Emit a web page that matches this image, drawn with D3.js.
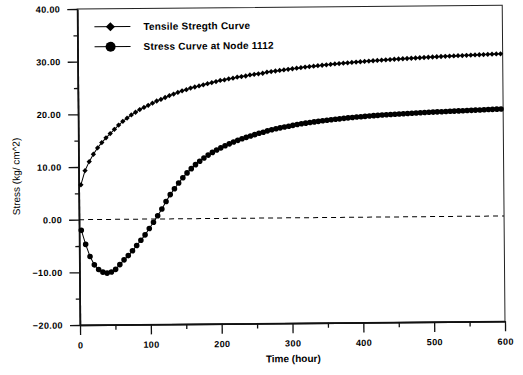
<!DOCTYPE html>
<html>
<head>
<meta charset="utf-8">
<script src="https://cdn.jsdelivr.net/npm/d3@7"></script>
<style>
  body { margin: 0; background: #fff; }
  text { font-family: "Liberation Sans", Arial, sans-serif; fill: #000; }
</style>
</head>
<body>
<div id="chart"></div>
<script>
// time steps (hours)
const times = [3, 9, 15, 21, 27, 33, 39, 45, 51, 57,
  63, 69, 75, 81, 87, 93, 99, 105, 111, 117,
  123, 129, 135, 141, 147, 153, 159, 165, 171, 177,
  183, 189, 195, 201, 207, 213, 219, 225, 231, 237,
  243, 249, 255, 261, 267, 273, 279, 285, 291, 297,
  303, 309, 315, 321, 327, 333, 339, 345, 351, 357,
  363, 369, 375, 381, 387, 393, 399, 405, 411, 417,
  423, 429, 435, 441, 447, 453, 459, 465, 471, 477,
  483, 489, 495, 501, 507, 513, 519, 525, 531, 537,
  543, 549, 555, 561, 567, 573, 579, 585, 591, 597];

const tensile = [6.6, 9.3, 11.0, 12.4, 13.6, 14.6, 15.5, 16.3, 17.1, 17.9,
  18.6, 19.2, 19.8, 20.3, 20.8, 21.2, 21.6, 22.0, 22.4, 22.7,
  23.05, 23.4, 23.7, 24.0, 24.3, 24.5, 24.8, 25.0, 25.2, 25.4,
  25.6, 25.8, 26.0, 26.2, 26.3, 26.5, 26.6, 26.8, 26.9, 27.0,
  27.2, 27.3, 27.4, 27.5, 27.7, 27.8, 27.9, 28.0, 28.1, 28.2,
  28.3, 28.4, 28.5, 28.6, 28.68, 28.76, 28.84, 28.92, 29.0, 29.07,
  29.14, 29.21, 29.28, 29.34, 29.4, 29.46, 29.52, 29.58, 29.64, 29.69,
  29.74, 29.79, 29.84, 29.89, 29.94, 29.98, 30.02, 30.06, 30.1, 30.14,
  30.18, 30.22, 30.26, 30.3, 30.34, 30.38, 30.41, 30.44, 30.47, 30.5,
  30.53, 30.56, 30.59, 30.62, 30.65, 30.68, 30.71, 30.74, 30.77, 30.8];

const stress = [-2.0, -4.7, -7.0, -8.6, -9.5, -10.0, -10.2, -10.0, -9.5, -8.6,
  -7.7, -6.9, -6.0, -5.0, -4.0, -3.0, -1.8, -0.6, 0.6, 1.9,
  3.3, 4.6, 5.7, 6.8, 7.8, 8.7, 9.5, 10.25, 10.9, 11.5,
  12.05, 12.55, 13.0, 13.4, 13.8, 14.15, 14.5, 14.8, 15.1, 15.35,
  15.6, 15.85, 16.1, 16.3, 16.55, 16.75, 16.95, 17.1, 17.25, 17.4,
  17.55, 17.7, 17.83, 17.95, 18.06, 18.17, 18.27, 18.37, 18.46, 18.55,
  18.63, 18.71, 18.8, 18.88, 18.95, 19.02, 19.08, 19.14, 19.2, 19.26,
  19.31, 19.36, 19.41, 19.46, 19.5, 19.54, 19.58, 19.62, 19.66, 19.7,
  19.74, 19.78, 19.81, 19.84, 19.87, 19.9, 19.93, 19.96, 19.99, 20.02,
  20.05, 20.08, 20.11, 20.14, 20.17, 20.2, 20.23, 20.26, 20.29, 20.32];

const seriesNames = ["Tensile Stregth Curve", "Stress Curve at Node 1112"];
const yTicks = [-20, -10, 0, 10, 20, 30, 40];
const yMinor = [-15, -5, 5, 15, 25, 35];
const xTicks = [0, 100, 200, 300, 400, 500, 600];
const xMinor = [50, 150, 250, 350, 450, 550];

const W = 523, H = 375;
const plotLeft = 80, plotRight = 505, plotTop = 9, plotBottom = 325;

const svg = d3.select("#chart").append("svg")
  .attr("width", W).attr("height", H);

// the scanned original sits slightly tilted
const g = svg.append("g")
  .attr("transform", `rotate(-0.5, ${plotLeft}, ${plotBottom})`);

const x = d3.scaleLinear().domain([0, 600]).range([plotLeft, plotRight]);
const y = d3.scaleLinear().domain([-20, 40]).range([plotBottom, plotTop]);

// frame
g.append("rect")
  .attr("x", plotLeft).attr("y", plotTop)
  .attr("width", plotRight - plotLeft).attr("height", plotBottom - plotTop)
  .attr("fill", "none").attr("stroke", "#222").attr("stroke-width", 1);

// y axis
g.append("g")
  .attr("transform", `translate(${plotLeft},0)`)
  .call(d3.axisLeft(y).tickValues(yTicks).tickSize(10).tickSizeOuter(0)
    .tickPadding(7).tickFormat(d3.format(".2f")));
g.append("g")
  .attr("transform", `translate(${plotLeft},0)`)
  .call(d3.axisLeft(y).tickValues(yMinor).tickSize(4).tickSizeOuter(0).tickFormat(""));

// x axis
g.append("g")
  .attr("transform", `translate(0,${plotBottom})`)
  .call(d3.axisBottom(x).tickValues(xTicks).tickSize(10).tickSizeOuter(0)
    .tickPadding(7));
g.append("g")
  .attr("transform", `translate(0,${plotBottom})`)
  .call(d3.axisBottom(x).tickValues(xMinor).tickSize(5).tickSizeOuter(0).tickFormat(""));

g.selectAll(".domain").attr("stroke", "#111").attr("stroke-width", 1.4);
g.selectAll(".tick line").attr("stroke", "#111").attr("stroke-width", 1.3);
g.selectAll(".tick text")
  .style("font-size", "9px")
  .style("font-weight", "bold")
  .style("letter-spacing", "0.4px")
  .attr("fill", "#000");

// axis titles
g.append("text")
  .attr("x", 293).attr("y", 364)
  .attr("text-anchor", "middle")
  .style("font-size", "10px")
  .style("font-weight", "bold")
  .text("Time (hour)");

g.append("text")
  .attr("transform", "translate(21,176) rotate(-90)")
  .attr("text-anchor", "middle")
  .style("font-size", "10px")
  .text("Stress (kg/ cm^2)");

// zero reference line
g.append("line")
  .attr("x1", x(0)).attr("x2", x(600))
  .attr("y1", y(0)).attr("y2", y(0))
  .attr("stroke", "#000").attr("stroke-width", 1)
  .attr("stroke-dasharray", "5,4");

// series
const tensileData = times.map((t, i) => ({ t: t, v: tensile[i] }));
const stressData = times.map((t, i) => ({ t: t, v: stress[i] }));

const line = d3.line().x(d => x(d.t)).y(d => y(d.v));

const diamond = d3.symbol().type(d3.symbolSquare).size(14);
const bigDiamond = d3.symbol().type(d3.symbolSquare).size(42);

g.append("path").datum(tensileData)
  .attr("d", line).attr("fill", "none")
  .attr("stroke", "#000").attr("stroke-width", 1);
g.selectAll(".tens").data(tensileData).enter().append("path")
  .attr("class", "tens")
  .attr("d", diamond)
  .attr("transform", d => `translate(${x(d.t)},${y(d.v)}) rotate(45)`)
  .attr("fill", "#000");

g.append("path").datum(stressData)
  .attr("d", line).attr("fill", "none")
  .attr("stroke", "#000").attr("stroke-width", 1);
g.selectAll(".str").data(stressData).enter().append("circle")
  .attr("class", "str")
  .attr("cx", d => x(d.t)).attr("cy", d => y(d.v))
  .attr("r", 2.8)
  .attr("fill", "#000");

// legend
const legend = g.append("g");
const legendRows = [{ name: seriesNames[0], y: 27 }, { name: seriesNames[1], y: 47 }];
legendRows.forEach((r, i) => {
  legend.append("line")
    .attr("x1", 97).attr("x2", 133).attr("y1", r.y).attr("y2", r.y)
    .attr("stroke", "#000").attr("stroke-width", 1);
  if (i === 0) {
    legend.append("path").attr("d", bigDiamond)
      .attr("transform", `translate(113,${r.y}) rotate(45)`)
      .attr("fill", "#000");
  } else {
    legend.append("circle").attr("cx", 113).attr("cy", r.y).attr("r", 5)
      .attr("fill", "#000");
  }
  legend.append("text")
    .attr("x", 146).attr("y", r.y + 3.5)
    .style("font-size", "10px")
    .style("font-weight", "bold")
    .style("letter-spacing", "0.2px")
    .text(r.name);
});
</script>
</body>
</html>
